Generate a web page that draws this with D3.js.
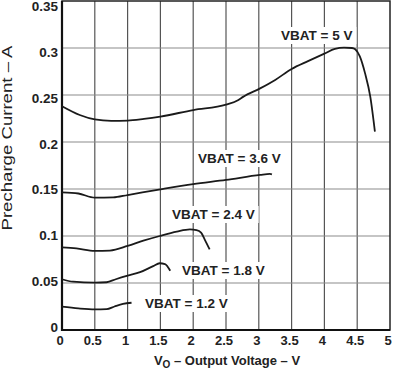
<!DOCTYPE html>
<html>
<head>
<meta charset="utf-8">
<script src="https://cdn.jsdelivr.net/npm/d3@7"></script>
<style>
  body { margin: 0; background: #fff; }
  text { font-family: "Liberation Sans", Arial, sans-serif; fill: #222; }
</style>
</head>
<body>
<svg id="chart"></svg>
<script>
// series: [V, A]
var vbat5 = [[0,0.238],[0.27,0.2287],[0.5,0.224],[0.75,0.2225],[1.0,0.2227],[1.25,0.2245],[1.5,0.227],[2.0,0.234],[2.5,0.2397],[2.69,0.2447],[2.76,0.248],[3.02,0.257],[3.25,0.266],[3.5,0.2777],[3.75,0.286],[4.0,0.294],[4.16,0.299],[4.3,0.3003],[4.42,0.3],[4.47,0.2986],[4.54,0.291],[4.62,0.273],[4.7,0.248],[4.77,0.211]];
var vbat36 = [[0,0.1465],[0.25,0.1452],[0.5,0.1408],[0.78,0.141],[1.0,0.1436],[1.5,0.1497],[2.0,0.1553],[2.5,0.1596],[3.02,0.165],[3.17,0.166],[3.2,0.1655]];
var vbat24 = [[0,0.088],[0.22,0.0869],[0.5,0.0841],[0.73,0.0845],[1.0,0.0894],[1.24,0.095],[1.49,0.1],[1.75,0.1046],[1.95,0.107],[2.05,0.1062],[2.12,0.1035],[2.18,0.0957],[2.25,0.0858]];
var vbat18 = [[0,0.054],[0.17,0.0514],[0.5,0.0503],[0.68,0.0508],[0.82,0.054],[1.0,0.0578],[1.19,0.0615],[1.39,0.068],[1.49,0.071],[1.57,0.0702],[1.65,0.063]];
var vbat12 = [[0,0.0248],[0.25,0.023],[0.5,0.022],[0.68,0.0222],[0.8,0.025],[0.93,0.0277],[1.06,0.029]];
var seriesNames = ["VBAT = 5 V", "VBAT = 3.6 V", "VBAT = 2.4 V", "VBAT = 1.8 V", "VBAT = 1.2 V"];
var xTicks = [0, 0.5, 1, 1.5, 2, 2.5, 3, 3.5, 4, 4.5, 5];
var yTicks = [0, 0.05, 0.1, 0.15, 0.2, 0.25, 0.3, 0.35];
var xTickLabels = ["0", "0.5", "1", "1.5", "2", "2.5", "3", "3.5", "4", "4.5", "5"];
var yTickLabels = ["0", "0.05", "0.1", "0.15", "0.2", "0.25", "0.3", "0.35"];

var width = 393, height = 370;
var svg = d3.select('#chart').attr('width', width).attr('height', height);

var x = d3.scaleLinear().domain([0, 5]).range([62, 390]);
var y = d3.scaleLinear().domain([0, 0.35]).range([330, 1]);
// the printed y labels sit slightly off their gridlines
var yLab = d3.scaleLinear().domain([0, 0.35]).range([327, 6.5]);

// grid
svg.append('g').selectAll('line.v')
  .data(xTicks.slice(1, -1))
  .enter().append('line')
  .attr('x1', d => x(d)).attr('x2', d => x(d))
  .attr('y1', y(0.35)).attr('y2', y(0))
  .attr('stroke', '#555').attr('stroke-width', 1.2);
svg.append('g').selectAll('line.h')
  .data(yTicks.slice(1, -1))
  .enter().append('line')
  .attr('x1', x(0)).attr('x2', x(5))
  .attr('y1', d => y(d)).attr('y2', d => y(d))
  .attr('stroke', '#8c8c8c').attr('stroke-width', 1.2);

// frame
svg.append('rect')
  .attr('x', x(0)).attr('y', y(0.35))
  .attr('width', x(5) - x(0)).attr('height', y(0) - y(0.35))
  .attr('fill', 'none').attr('stroke', '#222').attr('stroke-width', 1.5);
svg.append('path')
  .attr('d', 'M' + x(0) + ',' + y(0.35) + 'V' + y(0) + 'H' + x(5))
  .attr('fill', 'none').attr('stroke', '#111').attr('stroke-width', 2.2);

// curves
var line = d3.line().x(d => x(d[0])).y(d => y(d[1])).curve(d3.curveMonotoneX);
var allSeries = [vbat5, vbat36, vbat24, vbat18, vbat12];
svg.append('g').selectAll('path')
  .data(allSeries)
  .enter().append('path')
  .attr('d', line)
  .attr('fill', 'none').attr('stroke', '#1a1a1a').attr('stroke-width', 1.8)
  .attr('stroke-linejoin', 'round');

// curve labels (left edge, baseline)
var labelPos = [[281, 40], [198, 163], [172, 219], [182, 275], [145, 308]];
var labels = svg.append('g');
seriesNames.forEach(function (name, i) {
  var g = labels.append('g');
  var t = g.append('text')
    .attr('x', labelPos[i][0]).attr('y', labelPos[i][1])
    .attr('font-size', 13.5).attr('font-weight', 'bold')
    .text(name);
  var b = t.node().getBBox();
  g.insert('rect', 'text')
    .attr('x', b.x - 4).attr('y', b.y - 1)
    .attr('width', b.width + 8).attr('height', b.height + 2)
    .attr('fill', '#fff');
});

// tick labels
svg.append('g').selectAll('text')
  .data(xTicks)
  .enter().append('text')
  .attr('x', d => x(d) - 2).attr('y', 345)
  .attr('text-anchor', 'middle')
  .attr('font-size', 13).attr('font-weight', 'bold')
  .text((d, i) => xTickLabels[i]);
svg.append('g').selectAll('text')
  .data(yTicks)
  .enter().append('text')
  .attr('x', 58).attr('y', d => yLab(d))
  .attr('dy', '0.35em')
  .attr('text-anchor', 'end')
  .attr('font-size', 13.5).attr('font-weight', 'bold')
  .text((d, i) => yTickLabels[i]);

// axis titles
var xt = svg.append('text')
  .attr('x', 227).attr('y', 365)
  .attr('text-anchor', 'middle')
  .attr('font-size', 13).attr('font-weight', 'bold');
xt.append('tspan').text('V');
xt.append('tspan').attr('dy', 3).attr('font-size', 10).text('O');
xt.append('tspan').attr('dy', -3).text(' \u2013 Output Voltage \u2013 V');

svg.append('text')
  .attr('transform', 'translate(12,138) rotate(-90)')
  .attr('text-anchor', 'middle')
  .attr('font-size', 14)
  .attr('textLength', 185).attr('lengthAdjust', 'spacingAndGlyphs')
  .text('Precharge Current \u2013 A');
</script>
</body>
</html>
